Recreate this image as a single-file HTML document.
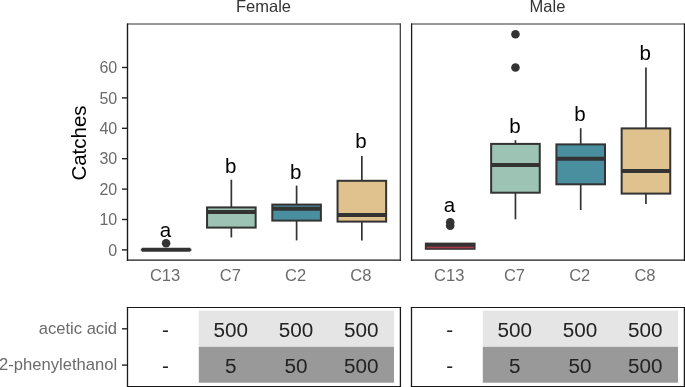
<!DOCTYPE html>
<html><head><meta charset="utf-8"><style>
html,body{margin:0;padding:0;background:#fff;}
svg{display:block;will-change:transform;font-family:"Liberation Sans",sans-serif;}
</style></head><body>
<svg width="685" height="387" viewBox="0 0 685 387">
<path d="M127.0 24.0H401.0" stroke="#1a1a1a" stroke-width="0.9"/>
<path d="M126.8 260.2H401.0" stroke="#1a1a1a" stroke-width="1.3"/>
<path d="M127.5 23.5V260.8" stroke="#1a1a1a" stroke-width="1.4"/>
<path d="M400.3 23.5V260.8" stroke="#333" stroke-width="1.2"/>
<path d="M411.0 24.0H685.0" stroke="#1a1a1a" stroke-width="0.9"/>
<path d="M410.9 260.2H685.0" stroke="#1a1a1a" stroke-width="1.3"/>
<path d="M411.6 23.5V260.8" stroke="#1a1a1a" stroke-width="1.3"/>
<path d="M684.4 23.5V260.8" stroke="#1a1a1a" stroke-width="1.2"/>
<line x1="122" y1="249.90" x2="127.5" y2="249.90" stroke="#222" stroke-width="1.4"/>
<text x="117.2" y="255.50" font-size="16" text-anchor="end" fill="#6b6b6b">0</text>
<line x1="122" y1="219.50" x2="127.5" y2="219.50" stroke="#222" stroke-width="1.4"/>
<text x="117.2" y="225.10" font-size="16" text-anchor="end" fill="#6b6b6b">10</text>
<line x1="122" y1="189.10" x2="127.5" y2="189.10" stroke="#222" stroke-width="1.4"/>
<text x="117.2" y="194.70" font-size="16" text-anchor="end" fill="#6b6b6b">20</text>
<line x1="122" y1="158.70" x2="127.5" y2="158.70" stroke="#222" stroke-width="1.4"/>
<text x="117.2" y="164.30" font-size="16" text-anchor="end" fill="#6b6b6b">30</text>
<line x1="122" y1="128.30" x2="127.5" y2="128.30" stroke="#222" stroke-width="1.4"/>
<text x="117.2" y="133.90" font-size="16" text-anchor="end" fill="#6b6b6b">40</text>
<line x1="122" y1="97.90" x2="127.5" y2="97.90" stroke="#222" stroke-width="1.4"/>
<text x="117.2" y="103.50" font-size="16" text-anchor="end" fill="#6b6b6b">50</text>
<line x1="122" y1="67.50" x2="127.5" y2="67.50" stroke="#222" stroke-width="1.4"/>
<text x="117.2" y="73.10" font-size="16" text-anchor="end" fill="#6b6b6b">60</text>
<text transform="translate(86.2,143) rotate(-90)" font-size="20.5" text-anchor="middle" fill="#000">Catches</text>
<text x="263.5" y="11.5" font-size="16.5" text-anchor="middle" fill="#333333">Female</text>
<text x="547.5" y="11.5" font-size="16.5" text-anchor="middle" fill="#333333">Male</text>
<text x="165.10" y="281.3" font-size="16.5" text-anchor="middle" fill="#6b6b6b">C13</text>
<text x="230.35" y="281.3" font-size="16.5" text-anchor="middle" fill="#6b6b6b">C7</text>
<text x="295.60" y="281.3" font-size="16.5" text-anchor="middle" fill="#6b6b6b">C2</text>
<text x="360.85" y="281.3" font-size="16.5" text-anchor="middle" fill="#6b6b6b">C8</text>
<text x="449.20" y="281.3" font-size="16.5" text-anchor="middle" fill="#6b6b6b">C13</text>
<text x="514.45" y="281.3" font-size="16.5" text-anchor="middle" fill="#6b6b6b">C7</text>
<text x="579.70" y="281.3" font-size="16.5" text-anchor="middle" fill="#6b6b6b">C2</text>
<text x="644.95" y="281.3" font-size="16.5" text-anchor="middle" fill="#6b6b6b">C8</text>
<path d="M140.80 249.85H191.40" stroke="#333333" stroke-width="2"/>
<path d="M141.80 249.85H190.40" stroke="#333333" stroke-width="4"/>
<circle cx="166.10" cy="243.30" r="4.3" fill="#333333"/>
<text x="165.50" y="237.10" font-size="20.5" text-anchor="middle" fill="#000">a</text>
<line x1="231.35" y1="179.70" x2="231.35" y2="207.40" stroke="#333333" stroke-width="1.7"/>
<line x1="231.35" y1="227.60" x2="231.35" y2="237.40" stroke="#333333" stroke-width="1.7"/>
<rect x="207.05" y="207.40" width="48.60" height="20.20" fill="#9DC3B5" stroke="#333333" stroke-width="2.0"/>
<line x1="207.05" y1="212.00" x2="255.65" y2="212.00" stroke="#333333" stroke-width="4.0"/>
<text x="230.75" y="172.80" font-size="20.5" text-anchor="middle" fill="#000">b</text>
<line x1="296.60" y1="185.60" x2="296.60" y2="204.60" stroke="#333333" stroke-width="1.7"/>
<line x1="296.60" y1="220.60" x2="296.60" y2="240.40" stroke="#333333" stroke-width="1.7"/>
<rect x="272.30" y="204.60" width="48.60" height="16.00" fill="#4A8FA0" stroke="#333333" stroke-width="2.0"/>
<line x1="272.30" y1="208.80" x2="320.90" y2="208.80" stroke="#333333" stroke-width="4.0"/>
<text x="295.80" y="179.00" font-size="20.5" text-anchor="middle" fill="#000">b</text>
<line x1="361.85" y1="155.90" x2="361.85" y2="180.80" stroke="#333333" stroke-width="1.7"/>
<line x1="361.85" y1="221.60" x2="361.85" y2="240.60" stroke="#333333" stroke-width="1.7"/>
<rect x="337.55" y="180.80" width="48.60" height="40.80" fill="#DFC28E" stroke="#333333" stroke-width="2.0"/>
<line x1="337.55" y1="215.00" x2="386.15" y2="215.00" stroke="#333333" stroke-width="4.0"/>
<text x="361.05" y="147.90" font-size="20.5" text-anchor="middle" fill="#000">b</text>
<rect x="424.85" y="242.6" width="50.7" height="7.2" fill="#333333"/>
<rect x="426.60" y="246.7" width="47.2" height="1.6" fill="#A83A4A"/>
<circle cx="450.20" cy="222.20" r="4.3" fill="#333333"/>
<circle cx="450.20" cy="225.75" r="4.3" fill="#333333"/>
<text x="449.50" y="211.50" font-size="20.5" text-anchor="middle" fill="#000">a</text>
<line x1="515.45" y1="140.20" x2="515.45" y2="143.90" stroke="#333333" stroke-width="1.7"/>
<line x1="515.45" y1="192.70" x2="515.45" y2="219.30" stroke="#333333" stroke-width="1.7"/>
<rect x="491.15" y="143.90" width="48.60" height="48.80" fill="#9DC3B5" stroke="#333333" stroke-width="2.0"/>
<line x1="491.15" y1="165.00" x2="539.75" y2="165.00" stroke="#333333" stroke-width="4.0"/>
<circle cx="515.45" cy="34.20" r="4.3" fill="#333333"/>
<circle cx="515.45" cy="67.50" r="4.3" fill="#333333"/>
<text x="515.05" y="132.70" font-size="20.5" text-anchor="middle" fill="#000">b</text>
<line x1="580.70" y1="128.20" x2="580.70" y2="144.40" stroke="#333333" stroke-width="1.7"/>
<line x1="580.70" y1="184.30" x2="580.70" y2="210.00" stroke="#333333" stroke-width="1.7"/>
<rect x="556.40" y="144.40" width="48.60" height="39.90" fill="#4A8FA0" stroke="#333333" stroke-width="2.0"/>
<line x1="556.40" y1="158.70" x2="605.00" y2="158.70" stroke="#333333" stroke-width="4.0"/>
<text x="580.00" y="120.70" font-size="20.5" text-anchor="middle" fill="#000">b</text>
<line x1="645.95" y1="67.40" x2="645.95" y2="128.40" stroke="#333333" stroke-width="1.7"/>
<line x1="645.95" y1="193.60" x2="645.95" y2="203.90" stroke="#333333" stroke-width="1.7"/>
<rect x="621.65" y="128.40" width="48.60" height="65.20" fill="#DFC28E" stroke="#333333" stroke-width="2.0"/>
<line x1="621.65" y1="171.00" x2="670.25" y2="171.00" stroke="#333333" stroke-width="4.0"/>
<text x="645.25" y="60.30" font-size="20.5" text-anchor="middle" fill="#000">b</text>
<path d="M126.9 307.5H401.1" stroke="#1a1a1a" stroke-width="1.2"/>
<path d="M126.9 386.5H401.1" stroke="#1a1a1a" stroke-width="1.1"/>
<path d="M127.5 306.9V387" stroke="#1a1a1a" stroke-width="1.3"/>
<path d="M400.4 306.9V387" stroke="#1a1a1a" stroke-width="1.3"/>
<path d="M410.9 307.5H685.1" stroke="#1a1a1a" stroke-width="1.2"/>
<path d="M410.9 386.5H685.1" stroke="#1a1a1a" stroke-width="1.1"/>
<path d="M411.5 306.9V387" stroke="#1a1a1a" stroke-width="1.3"/>
<path d="M684.4 306.9V387" stroke="#1a1a1a" stroke-width="1.3"/>
<rect x="198.8" y="310.6" width="195.2" height="36.19999999999999" fill="#e5e5e5"/>
<rect x="198.8" y="346.8" width="195.2" height="35.89999999999998" fill="#999999"/>
<rect x="482.8" y="310.6" width="195.2" height="36.19999999999999" fill="#e5e5e5"/>
<rect x="482.8" y="346.8" width="195.2" height="35.89999999999998" fill="#999999"/>
<text x="117.1" y="333.6" font-size="16.6" text-anchor="end" fill="#6b6b6b">acetic acid</text>
<text x="117.1" y="370.2" font-size="16.6" text-anchor="end" fill="#6b6b6b">2-phenylethanol</text>
<line x1="122" y1="328.8" x2="127.5" y2="328.8" stroke="#222" stroke-width="1.4"/>
<line x1="122" y1="365.1" x2="127.5" y2="365.1" stroke="#222" stroke-width="1.4"/>
<text x="165.50" y="336.8" font-size="20.7" text-anchor="middle" fill="#222">-</text>
<text x="165.50" y="373.2" font-size="20.7" text-anchor="middle" fill="#222">-</text>
<text x="230.75" y="336.8" font-size="20.7" text-anchor="middle" fill="#222">500</text>
<text x="230.75" y="373.2" font-size="20.7" text-anchor="middle" fill="#222">5</text>
<text x="296.00" y="336.8" font-size="20.7" text-anchor="middle" fill="#222">500</text>
<text x="296.00" y="373.2" font-size="20.7" text-anchor="middle" fill="#222">50</text>
<text x="361.25" y="336.8" font-size="20.7" text-anchor="middle" fill="#222">500</text>
<text x="361.25" y="373.2" font-size="20.7" text-anchor="middle" fill="#222">500</text>
<text x="449.60" y="336.8" font-size="20.7" text-anchor="middle" fill="#222">-</text>
<text x="449.60" y="373.2" font-size="20.7" text-anchor="middle" fill="#222">-</text>
<text x="514.85" y="336.8" font-size="20.7" text-anchor="middle" fill="#222">500</text>
<text x="514.85" y="373.2" font-size="20.7" text-anchor="middle" fill="#222">5</text>
<text x="580.10" y="336.8" font-size="20.7" text-anchor="middle" fill="#222">500</text>
<text x="580.10" y="373.2" font-size="20.7" text-anchor="middle" fill="#222">50</text>
<text x="645.35" y="336.8" font-size="20.7" text-anchor="middle" fill="#222">500</text>
<text x="645.35" y="373.2" font-size="20.7" text-anchor="middle" fill="#222">500</text>
</svg>
</body></html>
